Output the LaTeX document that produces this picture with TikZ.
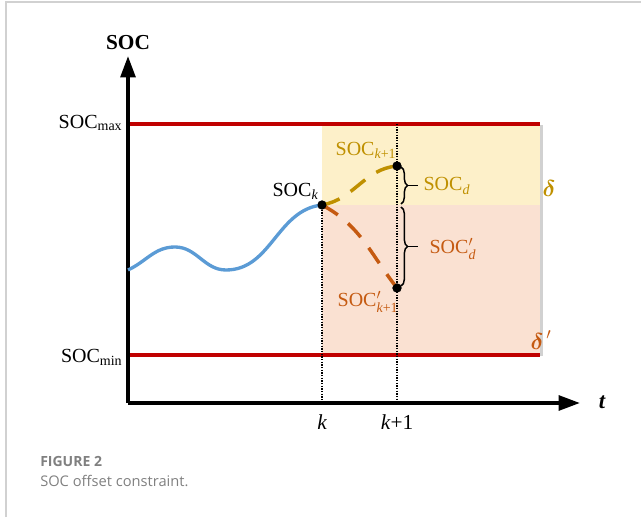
\documentclass[tikz,border=0pt]{standalone}
\usepackage{fontspec}
\usepackage{amsmath}
\setmainfont{Liberation Serif}
\newfontfamily\capfont{Open Sans}
\usetikzlibrary{positioning, calc, decorations.pathreplacing, arrows.meta}

\definecolor{socred}{HTML}{C00000}
\definecolor{socyellow}{HTML}{FDF0C9}
\definecolor{socpeach}{HTML}{FAE1D2}
\definecolor{socgold}{HTML}{BF9000}
\definecolor{socorange}{HTML}{C55A11}
\definecolor{socblue}{HTML}{5B9BD5}
\definecolor{capgray}{HTML}{808080}

\begin{document}
\begin{tikzpicture}[x=0.75pt, y=0.75pt,
    lbl/.style={font=\fontsize{15}{15}\selectfont, inner sep=1pt},
    bound/.style={socred, line width=2.7pt},
    guide/.style={densely dotted, line width=1pt},
    dot/.style={circle, fill=black, inner sep=0pt, minimum size=6.8pt},
    trace/.style={line width=2.6pt, dash pattern=on 14pt off 10pt},
    gap/.style={decorate, decoration={brace, amplitude=5pt}, line width=1.1pt},
    axis/.style={line width=2.8pt, -{Triangle[length=16pt, width=11pt]}}]
    \useasboundingbox (0,0) rectangle (641,517);

    % page frame
    \draw[black!18, line width=1pt] (6,0) -- (6,515) -- (641,515);

    % allowed band beyond step k
    \fill[black!18] (324,161) rectangle (543,392);
    \fill[socyellow] (322,312) rectangle (540,393);
    \fill[socpeach] (322,162) rectangle (540,312);

    % limits
    \draw[bound] (128,393) -- (540,393);
    \draw[bound] (128,162) -- (540,162);
    \node[lbl, anchor=east] (smax) at (124,394) {SOC\textsubscript{max}};
    \node[lbl, anchor=east] (smin) at (124,160) {SOC\textsubscript{min}};

    % axes
    \coordinate (orig) at (128,114);
    \draw[axis] (orig) -- (128,461);
    \draw[axis] (orig) -- (580,114);
    \node[lbl, font=\fontsize{16}{16}\selectfont\bfseries] (ylab) at (128,474) {SOC};
    \node[lbl, font=\fontsize{17}{17}\selectfont\bfseries\itshape] (xlab) at (602,115) {t};

    % states
    \node[dot] (sk) at (322,312) {};
    \node[dot] (sk1) at (397,351) {};
    \node[dot] (skp) at (397,229) {};
    \node[lbl, anchor=south east] (sklab) at (320,316) {SOC\textsubscript{\itshape k}};
    \node[lbl, socgold] (sk1lab) at (366,367) {SOC\textsubscript{\itshape k\upshape +1}};
    \node[lbl, socorange] (skplab) at (368,215) {SOC$^{\prime}_{\text{\itshape k\upshape +1}}$};

    % time steps
    \node[lbl, font=\fontsize{16}{16}\selectfont\itshape] (tk) at (322,95) {k};
    \node[lbl, font=\fontsize{16}{16}\selectfont] (tk1) at (397,95) {\textit{k}+1};
    \draw[guide] (sk) -- (322,114);
    \draw[guide] (397,393) -- (397,114);

    % trajectory so far
    \draw[socblue, line width=2.5pt] (128,247) to[out=25,in=180] (175,270)
        to[out=0,in=180] (226,247) to[out=0,in=186] (sk.center);

    % predicted next states
    \draw[trace, socgold] (sk.center) to[out=10,in=185] (sk1.center);
    \draw[trace, socorange] (sk.center) to[out=-28,in=128] (skp.center);
    \node[dot] at (sk) {};
    \node[dot] at (sk1) {};
    \node[dot] at (skp) {};

    % offsets
    \draw[gap] (401,350) -- (401,313);
    \draw[gap] (401,310) -- (401,231);
    \draw[line width=1pt] (408,331.5) -- (418,331.5);
    \draw[line width=1pt] (408,270.5) -- (418,270.5);
    \node[lbl, socgold, anchor=west] (sd) at (422,331) {SOC\textsubscript{\itshape d}};
    \node[lbl, socorange, anchor=west] (sdp) at (428,268) {SOC$^{\prime}_{\text{\itshape d}}$};

    % band names
    \node[lbl, socgold, font=\fontsize{18}{18}\selectfont\bfseries] (dl) at (549,328) {$\boldsymbol{\delta}$};
    \node[lbl, socorange, font=\fontsize{18}{18}\selectfont] (dlp) at (541,177) {$\boldsymbol{\delta}^{\,\prime}$};

    % caption
    \node[anchor=west, capgray, inner sep=0pt, font=\capfont\bfseries\fontsize{10.5}{12}\selectfont] (fig) at (40,56) {FIGURE 2};
    \node[anchor=west, capgray, inner sep=0pt, font=\capfont\fontsize{11}{13}\selectfont] (cap) at (40,36) {SOC offset constraint.};
\end{tikzpicture}
\end{document}
